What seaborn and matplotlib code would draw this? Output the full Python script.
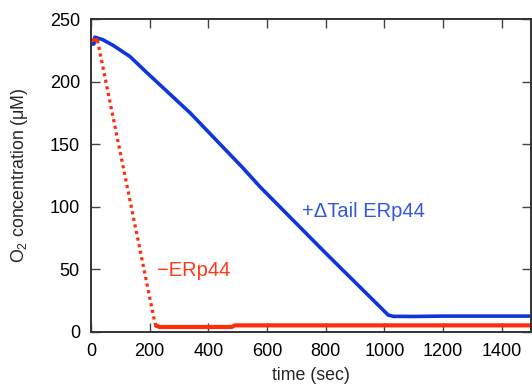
import matplotlib
matplotlib.use("Agg")
import matplotlib.pyplot as plt
import seaborn as sns
import pandas as pd

# ---- data ----
blue_t = [0, 10, 13, 40, 75, 133, 191, 338, 428, 518, 576, 800, 1013, 1030, 1100, 1200, 1500]
blue_v = [230, 230, 235.5, 233.5, 229, 220, 207, 175, 153, 131, 116, 63, 13.6, 12.5, 12.4, 12.7, 12.7]

red_start_t = [0, 22]
red_start_v = [233, 233]
red_drop_t = [22, 218, 224]
red_drop_v = [233, 7, 5]
red_flat_t = [222, 235, 480, 490, 1500]
red_flat_v = [5, 4, 4, 5.3, 5.3]

x_ticks = [0, 200, 400, 600, 800, 1000, 1200, 1400]
y_ticks = [0, 50, 100, 150, 200, 250]

blue_label = "+\u0394Tail ERp44"
red_label = "\u2212ERp44"
x_title = "time (sec)"
y_title = "O$_{2}$ concentration (\u03bcM)"

BLUE = "#0f36dc"
RED = "#ff2d0a"
BLUE_TXT = "#3358e0"
RED_TXT = "#ff3a1a"

sns.set_style("ticks")
plt.rcParams["font.family"] = ["Liberation Sans", "DejaVu Sans"]
plt.rcParams["mathtext.fontset"] = "custom"
plt.rcParams["mathtext.rm"] = "Liberation Sans"
plt.rcParams["mathtext.it"] = "Liberation Sans:italic"

fig = plt.figure(figsize=(5.32, 3.90), dpi=100)
ax = fig.add_axes([91 / 532, 58 / 390, 440 / 532, 313 / 390])

df_blue = pd.DataFrame({"t": blue_t, "v": blue_v})
sns.lineplot(data=df_blue, x="t", y="v", ax=ax, color=BLUE, lw=2.6, sort=False)

df_rs = pd.DataFrame({"t": red_start_t, "v": red_start_v})
sns.lineplot(data=df_rs, x="t", y="v", ax=ax, color=RED, lw=2.6, sort=False)
df_rd = pd.DataFrame({"t": red_drop_t, "v": red_drop_v})
sns.lineplot(data=df_rd, x="t", y="v", ax=ax, color=RED, lw=2.3, sort=False,
             linestyle=(0, (1, 1.1)))
df_rf = pd.DataFrame({"t": red_flat_t, "v": red_flat_v})
sns.lineplot(data=df_rf, x="t", y="v", ax=ax, color=RED, lw=3.0, sort=False)

ax.set_xlim(0, 1500)
ax.set_ylim(0, 250)
ax.set_xticks(x_ticks)
ax.set_yticks(y_ticks)
ax.tick_params(direction="in", length=6.5, width=1.0, color="#444444",
               top=True, right=True, labelsize=13, labelcolor="black")
ax.tick_params(axis="x", pad=8)
ax.tick_params(axis="y", pad=8)
for s in ax.spines.values():
    s.set_visible(True)
    s.set_linewidth(1.4)
    s.set_color("#333333")

ax.set_xlabel(x_title, fontsize=12.8, labelpad=5)
ax.set_ylabel(y_title, fontsize=12.8, labelpad=14)

ax.text(718, 92, blue_label, color=BLUE_TXT, fontsize=14.5, ha="left", va="baseline")
ax.text(224, 45, red_label, color=RED_TXT, fontsize=14.5, ha="left", va="baseline")

fig.savefig("out.png", dpi=100)
